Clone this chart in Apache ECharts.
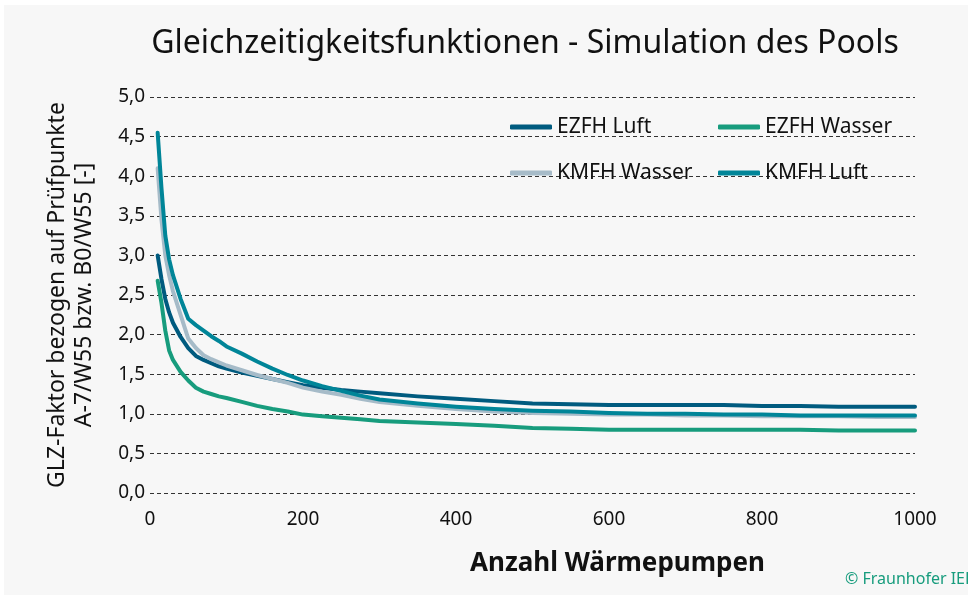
<!DOCTYPE html>
<html>
<head>
<meta charset="utf-8">
<script src="https://cdn.jsdelivr.net/npm/echarts@6/dist/echarts.min.js"></script>
<style>
  html, body { margin: 0; padding: 0; background: #ffffff; }
  #chart { width: 968px; height: 595px; }
</style>
</head>
<body>
<div id="chart"></div>
<script>
// Number of heat pumps in the pool
const poolSizes = [10, 15, 20, 25, 30, 40, 50, 60, 70, 80, 90, 100, 120, 140, 160, 180, 200, 225, 250, 275, 300, 350, 400, 450, 500, 550, 600, 650, 700, 750, 800, 850, 900, 950, 1000];

// Simultaneity factors per building type / heat source
const ezfhLuft   = [3.00, 2.70, 2.45, 2.28, 2.15, 1.97, 1.83, 1.73, 1.68, 1.64, 1.60, 1.57, 1.52, 1.48, 1.44, 1.40, 1.36, 1.33, 1.30, 1.28, 1.26, 1.22, 1.19, 1.16, 1.13, 1.12, 1.11, 1.11, 1.11, 1.11, 1.10, 1.10, 1.09, 1.09, 1.09];
const ezfhWasser = [2.68, 2.40, 2.05, 1.80, 1.68, 1.53, 1.42, 1.33, 1.28, 1.25, 1.22, 1.20, 1.15, 1.10, 1.06, 1.03, 0.99, 0.97, 0.95, 0.93, 0.91, 0.89, 0.87, 0.85, 0.82, 0.81, 0.80, 0.80, 0.80, 0.80, 0.80, 0.80, 0.79, 0.79, 0.79];
const kmfhWasser = [4.10, 3.45, 3.00, 2.75, 2.55, 2.25, 1.95, 1.83, 1.74, 1.69, 1.65, 1.61, 1.55, 1.49, 1.44, 1.39, 1.33, 1.28, 1.24, 1.19, 1.15, 1.10, 1.06, 1.03, 1.01, 1.00, 0.99, 0.99, 0.98, 0.98, 0.97, 0.97, 0.97, 0.96, 0.96];
const kmfhLuft   = [4.55, 3.85, 3.25, 2.95, 2.75, 2.45, 2.20, 2.12, 2.05, 1.98, 1.92, 1.85, 1.76, 1.66, 1.57, 1.49, 1.42, 1.35, 1.29, 1.23, 1.18, 1.13, 1.09, 1.06, 1.04, 1.03, 1.01, 1.00, 1.00, 0.99, 0.99, 0.98, 0.98, 0.98, 0.98];

const seriesNames = ['EZFH Luft', 'EZFH Wasser', 'KMFH Wasser', 'KMFH Luft'];
const seriesColors = ['#005b7f', '#179c7d', '#a6bbc8', '#008598'];
const seriesValues = [ezfhLuft, ezfhWasser, kmfhWasser, kmfhLuft];

const FONT = '"Noto Sans", "Open Sans", sans-serif';

const chart = echarts.init(document.getElementById('chart'), null, { renderer: 'canvas' });

const pairs = vals => poolSizes.map((x, i) => [x, vals[i]]);

// one legend box per entry, laid out as a 2x2 block
const legendPos = [
  { left: 510, top: 114 },
  { left: 718, top: 114 },
  { left: 510, top: 160 },
  { left: 718, top: 160 }
];

const option = {
  backgroundColor: '#ffffff',
  animation: false,
  title: {
    text: 'Gleichzeitigkeitsfunktionen - Simulation des Pools',
    left: 520,
    top: 23,
    textAlign: 'center',
    textStyle: { fontFamily: FONT, fontSize: 32, fontWeight: 'normal', color: '#111' }
  },
  graphic: [
    {
      type: 'rect', z: -10, silent: true,
      shape: { x: 4, y: 5, width: 964, height: 590 },
      style: { fill: '#f7f7f7' }
    },
    {
      type: 'text', left: 470, top: 551,
      style: { text: 'Anzahl Wärmepumpen', font: 'bold 26px ' + FONT, fill: '#111' }
    },
    {
      type: 'text', left: 845, top: 571,
      style: { text: '© Fraunhofer IEE', font: '16px ' + FONT, fill: '#179c7d' }
    }
  ],
  legend: seriesNames.map((name, i) => ({
    data: [name],
    left: legendPos[i].left,
    top: legendPos[i].top,
    padding: 0,
    icon: 'roundRect',
    itemWidth: 42,
    itemHeight: 5,
    itemGap: 0,
    textStyle: { fontFamily: FONT, fontSize: 21, color: '#111', lineHeight: 26 }
  })),
  grid: { left: 150, right: 53, top: 97, bottom: 102, containLabel: false },
  xAxis: {
    type: 'value',
    min: 0, max: 1000, interval: 200,
    axisLine: { show: false },
    axisTick: { show: false },
    splitLine: { show: false },
    axisLabel: {
      fontFamily: FONT, fontSize: 19, color: '#111', margin: 17,
      formatter: v => String(v)
    }
  },
  yAxis: {
    type: 'value',
    min: 0, max: 5, interval: 0.5,
    axisLine: { show: false },
    axisTick: { show: false },
    splitLine: { show: true, lineStyle: { color: '#333', width: 1, type: [4, 3] } },
    axisLabel: {
      fontFamily: FONT, fontSize: 19, color: '#111', margin: 5,
      formatter: v => v.toFixed(1).replace('.', ',')
    },
    name: 'GLZ-Faktor bezogen auf Prüfpunkte\nA-7/W55 bzw. B0/W55 [-]',
    nameLocation: 'middle',
    nameGap: 52,
    nameRotate: 90,
    nameTextStyle: { fontFamily: FONT, fontSize: 23, color: '#111', lineHeight: 27, align: 'center' }
  },
  series: seriesNames.map((name, i) => ({
    name,
    type: 'line',
    data: pairs(seriesValues[i]),
    showSymbol: false,
    symbol: 'none',
    lineStyle: { width: 4, color: seriesColors[i], cap: 'round', join: 'round' },
    itemStyle: { color: seriesColors[i] },
    z: 2 + i
  }))
};

chart.setOption(option);
</script>
</body>
</html>
